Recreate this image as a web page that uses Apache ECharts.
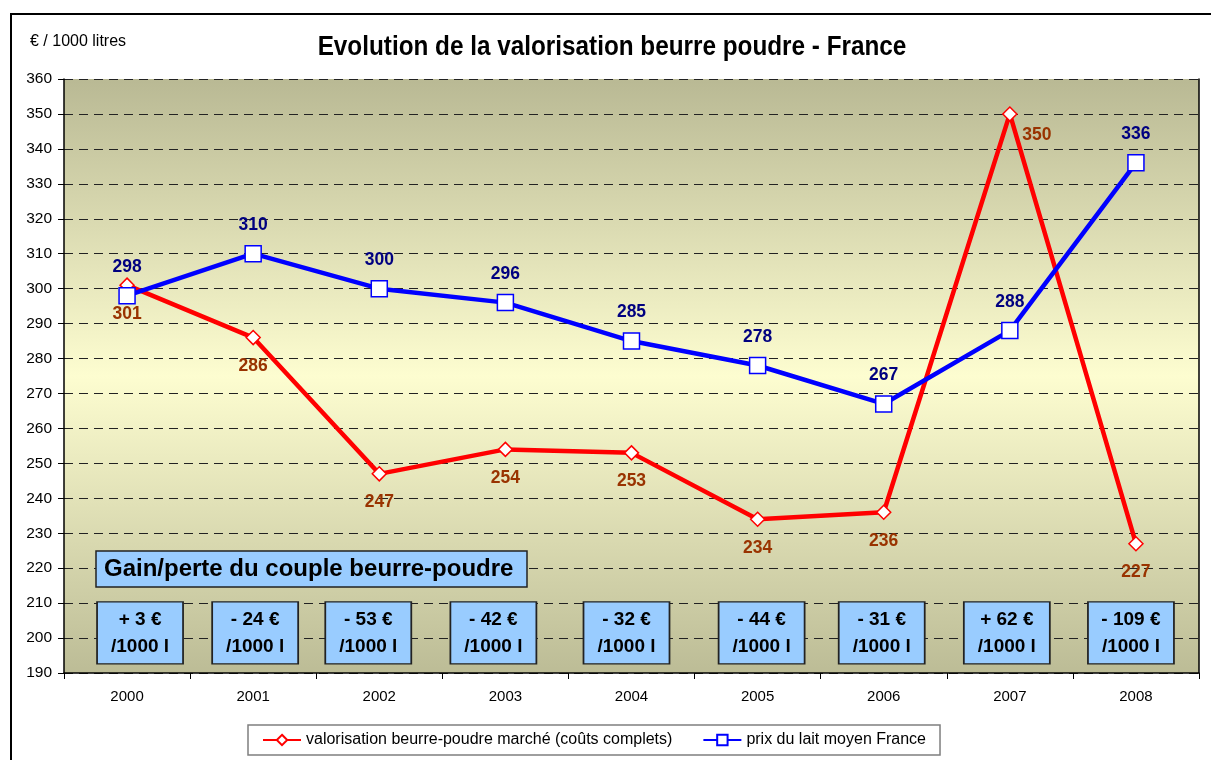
<!DOCTYPE html>
<html>
<head>
<meta charset="utf-8">
<script src="https://cdn.jsdelivr.net/npm/echarts@6/dist/echarts.min.js"></script>
<style>
html,body{margin:0;padding:0;background:#fff;}
#c{width:1211px;height:760px;}
</style>
</head>
<body>
<div id="c"></div>
<script>
var years = ['2000','2001','2002','2003','2004','2005','2006','2007','2008'];
var valorisation = [301, 286, 247, 254, 253, 234, 236, 350, 227];
var prixLait = [298, 310, 300, 296, 285, 278, 267, 288, 336];
var gains = [3, -24, -53, -42, -32, -44, -31, 62, -109];
var yTicks = {min: 190, max: 360, interval: 10};

// layout: horizontal nudges (px) of the gain boxes, as hand-placed in the original
var boxShiftPx = [13, 2, -11, -12, -5, 4, -2, -3, -5];

var F = "'Liberation Sans', Arial, sans-serif";
var BOX_Y = 201.5;

var chart = echarts.init(document.getElementById('c'));

var redData = valorisation.map(function (v, i) {
  var d = {value: v};
  if (i === 7) {
    d.label = {offset: [27, -8]};
  }
  return d;
});

var boxData = gains.map(function (g, i) {
  return {value: [i, BOX_Y, g], symbolOffset: [boxShiftPx[i], 0]};
});

var option = {
  animation: false,
  backgroundColor: '#ffffff',
  grid: {
    left: 64, right: 12, top: 79, bottom: 87,
    show: true, borderWidth: 0,
    backgroundColor: new echarts.graphic.LinearGradient(0, 0, 0, 1, [
      {offset: 0, color: '#b9b994'},
      {offset: 0.5, color: '#fdfdd0'},
      {offset: 1, color: '#bcbc96'}
    ])
  },
  legend: {
    left: 248, top: 725,
    padding: [7, 14, 7, 14],
    borderColor: '#7f7f7f', borderWidth: 1.5,
    backgroundColor: '#fff',
    itemWidth: 38, itemHeight: 13, itemGap: 30,
    textStyle: {fontFamily: F, fontSize: 16, color: '#000'},
    data: ['valorisation beurre-poudre marché (coûts complets)', 'prix du lait moyen France']
  },
  xAxis: {
    type: 'category', data: years, boundaryGap: true,
    axisLine: {lineStyle: {color: '#000', width: 1.5}},
    axisTick: {show: true, length: 6, lineStyle: {color: '#000'}},
    axisLabel: {fontFamily: F, fontSize: 15, color: '#000', margin: 16},
    splitLine: {show: false}
  },
  yAxis: [{
    type: 'value', min: yTicks.min, max: yTicks.max, interval: yTicks.interval,
    name: '€ / 1000 litres', nameLocation: 'end',
    nameGap: 29,
    nameTextStyle: {fontFamily: F, fontSize: 16, color: '#000', align: 'left', padding: [0, 0, 0, -34]},
    axisLine: {show: true, lineStyle: {color: '#000', width: 1.5}},
    axisTick: {show: true, length: 6, lineStyle: {color: '#000'}},
    axisLabel: {fontFamily: F, fontSize: 15.5, color: '#000', margin: 12},
    splitLine: {show: true, lineStyle: {color: '#222', width: 1, type: [9, 6]}}
  }, {
    type: 'value', position: 'right', min: yTicks.min, max: yTicks.max, interval: yTicks.interval,
    axisLine: {show: true, lineStyle: {color: '#000', width: 1.5}},
    axisTick: {show: false}, axisLabel: {show: false}, splitLine: {show: false}
  }],
  series: [{
    name: 'valorisation beurre-poudre marché (coûts complets)',
    type: 'line', data: redData,
    symbol: 'diamond', symbolSize: 14,
    lineStyle: {color: '#ff0000', width: 4.5},
    itemStyle: {color: '#ffffff', borderColor: '#ff0000', borderWidth: 1.5},
    label: {show: true, position: 'bottom', distance: 12,
      fontFamily: F, fontWeight: 'bold', fontSize: 17.5, color: '#993300'},
    emphasis: {disabled: true},
    z: 3
  }, {
    name: 'prix du lait moyen France',
    type: 'line', data: prixLait,
    symbol: 'rect', symbolSize: 16,
    lineStyle: {color: '#0000ff', width: 4.5},
    itemStyle: {color: '#ffffff', borderColor: '#0000ff', borderWidth: 1.5},
    label: {show: true, position: 'top', distance: 11,
      fontFamily: F, fontWeight: 'bold', fontSize: 17.5, color: '#000080'},
    emphasis: {disabled: true},
    z: 4
  }, {
    name: 'gains',
    type: 'scatter', data: boxData,
    symbol: 'rect', symbolSize: [86, 62],
    itemStyle: {color: '#99ccff', borderColor: '#222', borderWidth: 1.5, opacity: 1},
    label: {show: true, position: 'inside',
      fontFamily: F, fontWeight: 'bold', fontSize: 19, color: '#000', lineHeight: 27,
      formatter: function (p) {
        var g = p.value[2];
        return (g >= 0 ? '+ ' : '- ') + Math.abs(g) + ' €\n/1000 l';
      }},
    emphasis: {disabled: true},
    silent: true,
    z: 5
  }],
  graphic: [{
    type: 'rect', x: 11, y: 14, silent: true,
    shape: {x: 0, y: 0, width: 1400, height: 900},
    style: {fill: 'none', stroke: '#000', lineWidth: 2},
    z: 0
  }, {
    type: 'text', x: 612, y: 48, scaleX: 0.9, silent: true,
    style: {text: 'Evolution de la valorisation beurre poudre - France',
      font: 'bold 27px ' + F, fill: '#000', align: 'center', verticalAlign: 'middle'},
    z: 10
  }, {
    type: 'rect', x: 96, y: 551, silent: true,
    shape: {x: 0, y: 0, width: 431, height: 36},
    style: {fill: '#99ccff', stroke: '#222', lineWidth: 1.5},
    z: 10
  }, {
    type: 'text', x: 104, y: 569, silent: true,
    style: {text: 'Gain/perte du couple beurre-poudre', font: 'bold 24px ' + F, fill: '#000',
      align: 'left', verticalAlign: 'middle'},
    z: 11
  }]
};
chart.setOption(option);
</script>
</body>
</html>
